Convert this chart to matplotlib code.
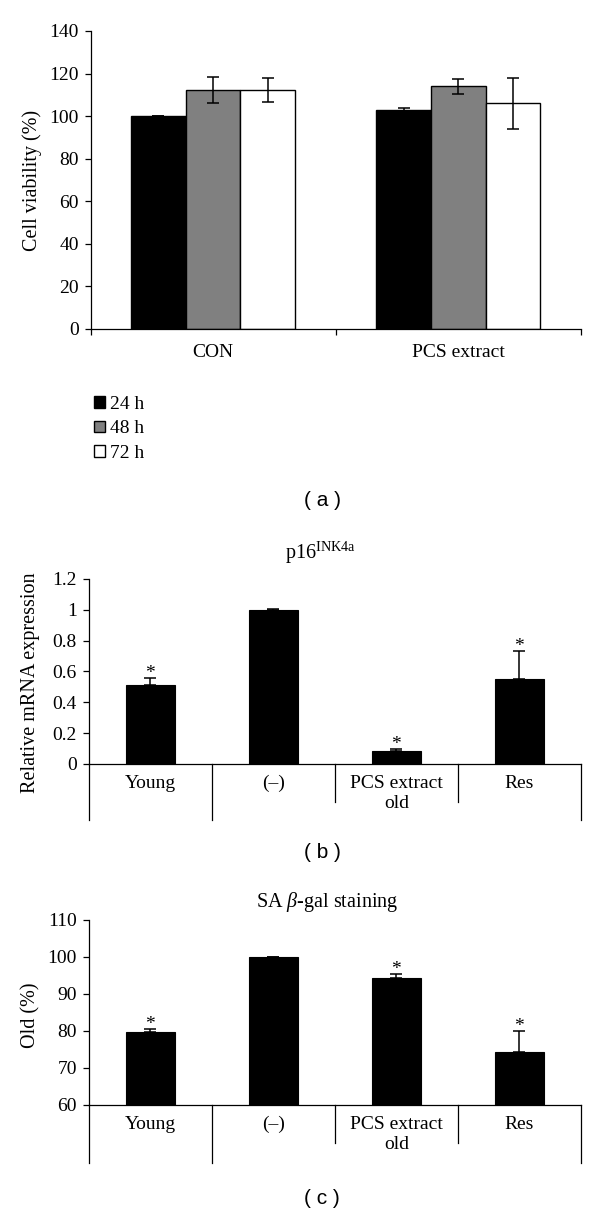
import matplotlib
matplotlib.use("Agg")
import matplotlib.pyplot as plt
import matplotlib.transforms as mtransforms
from matplotlib.ticker import FormatStrFormatter, FixedLocator
import numpy as np

# ---------------- data ----------------
# panel (a)
treat_a = ["CON", "PCS extract"]
timepoints = ["24 h", "48 h", "72 h"]
via_24 = [100.0, 103.0]
err_24 = [0.0, 1.0]
via_48 = [112.4, 114.1]
err_48 = [6.2, 3.5]
via_72 = [112.2, 106.0]
err_72 = [5.5, 12.0]
colors_a = ["#000000", "#808080", "#ffffff"]

# panel (b)
groups = ["Young", "(–)", "PCS extract", "Res"]
group2_labels = ["", "old"]
group2_sizes = [1, 3]
p16 = [0.51, 1.0, 0.085, 0.55]
p16_err = [0.045, 0.003, 0.01, 0.185]
p16_sig = [True, False, True, True]

# panel (c)
sa = [79.7, 100.0, 94.2, 74.4]
sa_err = [0.7, 0.1, 1.3, 5.5]
sa_sig = [True, False, True, True]

# ---------------- style ----------------
SERIF = "Liberation Serif"
plt.rcParams["font.family"] = [SERIF, "DejaVu Serif"]
plt.rcParams["mathtext.fontset"] = "custom"
plt.rcParams["mathtext.rm"] = SERIF
plt.rcParams["mathtext.it"] = SERIF + ":italic"
plt.rcParams["axes.linewidth"] = 0.9
FS = 14
LFS = 14.5

fig = plt.figure(figsize=(6, 12.14), dpi=100)

def style_axis(ax):
    for s in ["top", "right"]:
        ax.spines[s].set_visible(False)
    ax.tick_params(axis="y", direction="out", length=4.5, width=0.9, pad=4, labelsize=FS)

# ---------------- panel (a) ----------------
ax_a = fig.add_axes([0.151, 0.729, 0.817, 0.2455])
style_axis(ax_a)
x = np.arange(len(treat_a))
w = 0.223
bars = []
for i, (vals, errs, col, lab) in enumerate(zip([via_24, via_48, via_72],
                                              [err_24, err_48, err_72],
                                              colors_a, timepoints)):
    b = ax_a.bar(x + (i - 1) * w, vals, width=w, color=col, edgecolor="black",
                 linewidth=1.0, label=lab, zorder=2)
    bars.append(b)
    ax_a.errorbar(x + (i - 1) * w, vals, yerr=errs, fmt="none", ecolor="black",
                  elinewidth=1.1, capsize=4.5, capthick=1.1, zorder=3)
ax_a.set_xlim(-0.5, len(treat_a) - 0.5)
ax_a.set_ylim(0, 140)
ax_a.set_yticks(np.arange(0, 141, 20))
ax_a.xaxis.set_major_locator(FixedLocator(np.arange(len(treat_a) + 1) - 0.5))
ax_a.xaxis.set_minor_locator(FixedLocator(x))
ax_a.set_xticklabels([])
ax_a.set_xticklabels(treat_a, minor=True)
ax_a.tick_params(axis="x", which="major", direction="out", length=4.5, width=0.9)
ax_a.tick_params(axis="x", which="minor", length=0, pad=11, labelsize=FS)
ax_a.set_ylabel("Cell viability (%)", fontsize=LFS)
ax_a.yaxis.set_label_coords(-0.12, 0.5)
ax_a.yaxis.label.set_verticalalignment("center")

fig.legend(handles=bars, labels=timepoints, loc="upper left",
           bbox_to_anchor=(94 / 600, 1 - 396 / 1214), bbox_transform=fig.transFigure,
           frameon=False, fontsize=FS, handlelength=0.55, handleheight=0.55,
           handletextpad=0.25, labelspacing=0.38, borderpad=0, borderaxespad=0)

# ---------------- helper for category panels ----------------
def category_panel(ax, vals, errs, sig, ylim, yticks, fmt, ylabel, ylab_y,
                   title, title_x, title_y, long_len, short_len):
    style_axis(ax)
    xx = np.arange(len(groups))
    bottom = ylim[0]
    ax.bar(xx, np.array(vals) - bottom, bottom=bottom, width=0.4, color="black",
           edgecolor="black", linewidth=0.8, zorder=2)
    ax.errorbar(xx, vals, yerr=[np.zeros(len(errs)), errs], fmt="none",
                ecolor="black", elinewidth=1.1, capsize=4.5, capthick=1.1, zorder=3)
    for xi, v, e, s in zip(xx, vals, errs, sig):
        if s:
            ax.annotate("*", (xi, v + e), xytext=(0, 0), textcoords="offset points",
                        ha="center", va="baseline", fontsize=FS)
    ax.set_xlim(-0.5, len(groups) - 0.5)
    ax.set_ylim(*ylim)
    ax.set_yticks(yticks)
    ax.yaxis.set_major_formatter(FormatStrFormatter(fmt))
    ax.set_xticks([])
    ax.set_ylabel(ylabel, fontsize=LFS)
    ax.yaxis.set_label_coords(-0.118, ylab_y)
    ax.yaxis.label.set_verticalalignment("center")
    trans = mtransforms.blended_transform_factory(ax.transData, ax.transAxes)
    # first level labels
    for xi, g in zip(xx, groups):
        ax.text(xi, -0.105, g, transform=trans, ha="center", va="center", fontsize=FS)
    # second level labels and separators
    edges = np.concatenate([[0], np.cumsum(group2_sizes)]) - 0.5
    for k, lab in enumerate(group2_labels):
        if lab:
            ax.text((edges[k] + edges[k + 1]) / 2, -0.215, lab, transform=trans,
                    ha="center", va="center", fontsize=FS)
    for b in np.arange(len(groups) + 1) - 0.5:
        ln = long_len if np.any(np.isclose(edges, b)) else short_len
        ax.plot([b, b], [0, -ln], transform=trans, color="black", lw=0.9,
                clip_on=False)
    ax.text(title_x, title_y, title, transform=ax.transAxes, ha="center",
            va="center", fontsize=LFS)

ax_b = fig.add_axes([0.148, 0.3707, 0.82, 0.1524])
category_panel(ax_b, p16, p16_err, p16_sig, (0, 1.2), np.arange(0, 1.21, 0.2), "%g",
               "Relative mRNA expression", 0.438, r"p16$^{\mathrm{INK4a}}$", 0.47, 1.14,
               0.303, 0.205)

ax_c = fig.add_axes([0.148, 0.0898, 0.82, 0.1524])
category_panel(ax_c, sa, sa_err, sa_sig, (60, 110), np.arange(60, 111, 10), "%g",
               "Old (%)", 0.486, r"SA $\beta$-gal staining", 0.484, 1.097,
               0.313, 0.205)

# ---------------- sub-figure labels ----------------
for lab, yp in zip(["( a )", "( b )", "( c )"], [500, 853, 1198]):
    fig.text(322 / 600, 1 - yp / 1214, lab, ha="center", va="center",
             fontsize=15, family="Liberation Sans")

fig.savefig("out.png", dpi=100)
